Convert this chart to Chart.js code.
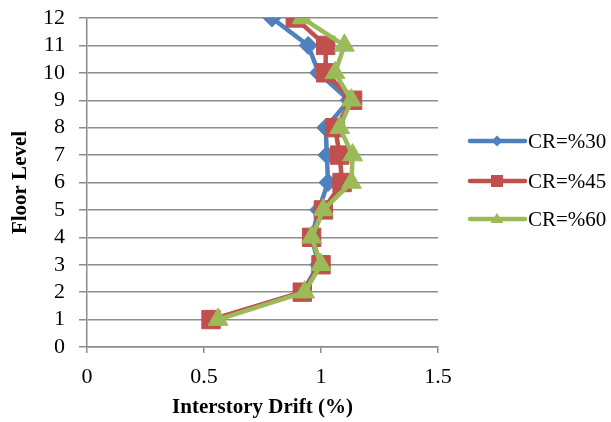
<!DOCTYPE html>
<html>
<head>
<meta charset="utf-8">
<title>Interstory Drift by Floor Level</title>
<script src="https://cdn.jsdelivr.net/npm/chart.js@4.4.1/dist/chart.umd.min.js"></script>
<style>
  html, body { margin: 0; padding: 0; background: #ffffff; }
  #wrap { width: 611px; height: 422px; position: relative; }
  canvas { display: block; }
</style>
</head>
<body>
<div id="wrap"><canvas id="chart" width="611" height="422"></canvas></div>
<script>
// Floor levels (vertical axis) and interstory drift (%) for each core ratio
const floors = [1, 2, 3, 4, 5, 6, 7, 8, 9, 10, 11, 12];
const seriesNames = ['CR=%30', 'CR=%45', 'CR=%60'];
const driftCR30 = [0.54, 0.92, 0.99, 0.96, 0.99, 1.03, 1.025, 1.02, 1.12, 0.99, 0.945, 0.79];
const driftCR45 = [0.53, 0.92, 1.00, 0.96, 1.01, 1.09, 1.08, 1.06, 1.135, 1.02, 1.02, 0.89];
const driftCR60 = [0.56, 0.93, 1.00, 0.96, 1.01, 1.13, 1.135, 1.08, 1.13, 1.06, 1.10, 0.92];
const xTicks = [0, 0.5, 1, 1.5];
const yTicks = [0, 1, 2, 3, 4, 5, 6, 7, 8, 9, 10, 11, 12];

const colors = ['#4F81BD', '#C0504D', '#9BBB59'];
const markers = ['rectRot', 'rect', 'triangle'];
const markerRadius = [9, 13, 11.5];
const FONT = "'Liberation Serif', 'Times New Roman', serif";

function toPoints(values) {
  return floors.map((f, i) => ({ x: values[i], y: f }));
}

const allSeries = [driftCR30, driftCR45, driftCR60];
const datasets = allSeries.map((vals, i) => ({
  label: seriesNames[i],
  data: toPoints(vals),
  showLine: true,
  borderColor: colors[i],
  backgroundColor: colors[i],
  borderWidth: 4.5,
  pointStyle: markers[i],
  pointRadius: markerRadius[i],
  pointBorderWidth: 1,
  pointBorderColor: colors[i],
  pointBackgroundColor: colors[i],
  order: allSeries.length - i
}));

// Legend drawn as a line sample with its marker, next to each series name
const sideLegend = {
  id: 'sideLegend',
  afterDraw(chart) {
    const ctx = chart.ctx;
    const rows = [141, 181, 219];
    const x0 = 470, x1 = 525, mx = 497;
    ctx.save();
    datasets.forEach((ds, i) => {
      const y = rows[i];
      ctx.strokeStyle = ds.borderColor;
      ctx.fillStyle = ds.borderColor;
      ctx.lineWidth = 4.5;
      ctx.lineCap = 'round';
      ctx.beginPath();
      ctx.moveTo(x0, y);
      ctx.lineTo(x1, y);
      ctx.stroke();
      ctx.beginPath();
      if (i === 0) {
        ctx.moveTo(mx, y - 5.5);
        ctx.lineTo(mx + 5.5, y);
        ctx.lineTo(mx, y + 5.5);
        ctx.lineTo(mx - 5.5, y);
      } else if (i === 1) {
        ctx.rect(mx - 6, y - 6, 12, 12);
      } else {
        ctx.moveTo(mx, y - 6);
        ctx.lineTo(mx + 6.5, y + 4);
        ctx.lineTo(mx - 6.5, y + 4);
      }
      ctx.closePath();
      ctx.fill();
      ctx.fillStyle = '#000000';
      ctx.font = '21px ' + FONT;
      ctx.textAlign = 'left';
      ctx.textBaseline = 'middle';
      ctx.fillText(ds.label, 528, y + 1);
    });
    ctx.restore();
  }
};

const whiteBg = {
  id: 'whiteBg',
  beforeDraw(chart) {
    const ctx = chart.ctx;
    ctx.save();
    ctx.fillStyle = '#ffffff';
    ctx.fillRect(0, 0, chart.width, chart.height);
    ctx.restore();
  }
};

new Chart(document.getElementById('chart'), {
  type: 'scatter',
  data: { datasets },
  options: {
    responsive: false,
    animation: false,
    devicePixelRatio: 1,
    layout: { padding: { top: 18, right: 173, bottom: 0, left: 0 } },
    plugins: {
      legend: { display: false },
      tooltip: { enabled: false }
    },
    scales: {
      x: {
        type: 'linear',
        min: 0,
        max: 1.5,
        afterBuildTicks(scale) { scale.ticks = xTicks.map(v => ({ value: v })); },
        afterFit(scale) {
          scale.height = 75;
          scale.paddingLeft = 0;
          scale.paddingRight = 0;
        },
        grid: {
          drawOnChartArea: false,
          drawTicks: true,
          tickLength: 6,
          color: '#8c8c8c',
          lineWidth: 1.5
        },
        border: { display: true, color: '#8c8c8c', width: 1.5 },
        ticks: {
          color: '#000000',
          font: { family: FONT, size: 22 },
          padding: 11,
          autoSkip: false,
          maxRotation: 0,
          callback: v => String(v)
        },
        title: {
          display: true,
          text: 'Interstory Drift (%)',
          color: '#000000',
          font: { family: FONT, size: 21, weight: 'bold' },
          padding: { top: 0, bottom: 2 }
        }
      },
      y: {
        type: 'linear',
        min: 0,
        max: 12,
        afterBuildTicks(scale) { scale.ticks = yTicks.map(v => ({ value: v })); },
        afterFit(scale) {
          scale.width = 87;
          scale.paddingTop = 0;
          scale.paddingBottom = 0;
        },
        grid: {
          drawTicks: true,
          tickLength: 8,
          color: '#8c8c8c',
          lineWidth: 1.5
        },
        border: { display: true, color: '#8c8c8c', width: 1.5 },
        ticks: {
          color: '#000000',
          font: { family: FONT, size: 22 },
          padding: 14,
          autoSkip: false
        },
        title: {
          display: true,
          text: 'Floor Level',
          color: '#000000',
          font: { family: FONT, size: 21, weight: 'bold' },
          padding: { top: 8, bottom: 0 }
        }
      }
    }
  },
  plugins: [whiteBg, sideLegend]
});
</script>
</body>
</html>
